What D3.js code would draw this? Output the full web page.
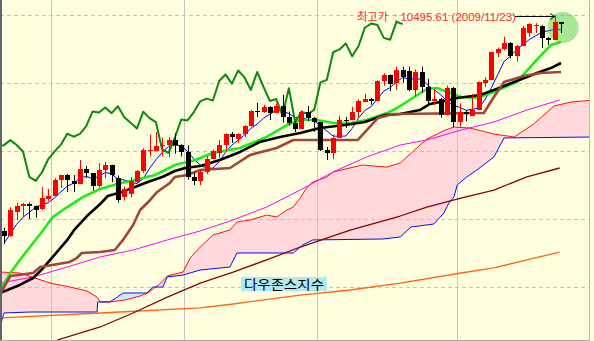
<!DOCTYPE html>
<html lang="ko">
<head>
<meta charset="utf-8">
<title>다우존스지수</title>
<script src="https://d3js.org/d3.v7.min.js"></script>
<style>
  body { margin: 0; background: #ffffe0; }
  svg { display: block; }
</style>
</head>
<body>
<script>
// daily candles, 2009/07/22 .. 2009/11/24 (index 0..88)
const open = [8915,8881,9050,9093,9108,9096,9070,9150,9172,9280,
  9320,9280,9257,9370,9337,9241,9362,9398,9300,9160,
  9180,9270,9350,9500,9505,9535,9540,9582,9544,9496,
  9310,9280,9344,9441,9490,9547,9627,9590,9626,9683,
  9791,9783,9820,9778,9829,9748,9707,9665,9789,9742,
  9712,9509,9487,9599,9731,9725,9786,9865,9885,9871,
  10015,10062,9995,10092,10090,9949,10080,9972,9868,9882,
  9762,9962,9712,9789,9760,9802,10000,10023,10220,10250,
  10291,10197,10270,10370,10420,10420,10330,10318,10450];
const high = [8936,9086,9118,9118,9120,9100,9235,9220,9300,9325,
  9330,9323,9434,9390,9337,9410,9420,9400,9320,9240,
  9309,9360,9520,9620,9640,9600,9603,9630,9550,9540,
  9340,9360,9460,9510,9580,9630,9640,9630,9690,9800,
  9853,9840,9830,9850,9912,9790,9720,9800,9831,9750,
  9712,9530,9620,9760,9750,9825,9880,9920,9890,10020,
  10070,10062,10120,10120,10120,10100,10120,10030,9950,9890,
  9980,9970,9850,9800,9920,10010,10044,10230,10260,10340,
  10300,10280,10420,10440,10440,10425,10338,10495.61,10449];
const low = [8816,8870,8993,9015,9000,9010,9065,9130,9172,9230,
  9198,9198,9257,9300,9210,9230,9300,9270,9120,9135,
  9160,9260,9340,9460,9505,9460,9456,9480,9460,9290,
  9250,9250,9330,9440,9450,9500,9559,9560,9600,9680,
  9750,9780,9728,9778,9710,9690,9640,9665,9720,9640,
  9500,9434,9440,9599,9670,9725,9750,9860,9840,9871,
  9980,9940,9950,10000,9940,9900,9930,9840,9838,9745,
  9762,9676,9680,9720,9757,9802,9970,10023,10190,10240,
  10180,10160,10270,10340,10368,10257,10280,10318,10368];
const close = [8881,9069,9093,9108,9096,9070,9154,9172,9286,9320,
  9280,9257,9370,9337,9241,9362,9398,9321,9135,9217,
  9279,9350,9505,9509,9539,9543,9580,9544,9496,9310,
  9280,9344,9441,9497,9547,9627,9605,9626,9683,9791,
  9783,9820,9778,9829,9748,9707,9665,9789,9742,9712,
  9509,9487,9599,9731,9725,9786,9865,9885,9871,10015,
  10062,9995,10092,10041,9949,10081,9972,9868,9882,9762,
  9962,9712,9789,9771,9802,10005,10023,10226,10247,10291,
  10197,10270,10406,10437,10426,10332,10318,10450,10433];

// thin blue line, one value per candle
const ma5 = [8820,8891,8961,9013,9049,9087,9104,9120,9156,9200,
  9242,9263,9303,9313,9297,9313,9342,9332,9291,9287,
  9270,9260,9297,9372,9436,9489,9535,9543,9540,9495,
  9442,9395,9374,9374,9422,9491,9543,9580,9618,9666,
  9698,9741,9771,9800,9792,9776,9745,9748,9730,9723,
  9683,9648,9610,9608,9610,9666,9741,9798,9826,9884,
  9940,9966,10007,10041,10028,10032,10027,9982,9950,9913,
  9869,9837,9821,9799,9807,9816,9878,9965,10061,10158,
  10197,10246,10282,10320,10347,10374,10384,10393,10392];

// other lines as [candle index, value]
const ma20 = [[-0.6,8478],[1,8603],[2.5,8699],[4.6,8824],[6.2,8919],[7.7,9015],[10,9088],[12.5,9162],
  [15.2,9221],[17.9,9257],[20.7,9287],[23.9,9324],[27,9397],[30.2,9434],[33,9485],[37.3,9522],
  [41.5,9603],[44.7,9691],[46.8,9728],[49.4,9728],[52,9706],[54.7,9706],[57.3,9728],[60.5,9779],
  [62.1,9816],[66.8,9956],[68.4,9963],[72.2,9897],[74.7,9890],[77.4,9934],[81,10007],[83.7,10147],
  [86.4,10279],[88,10301]];
const ma60 = [[-0.6,8456],[2.5,8515],[4.6,8566],[6.2,8640],[7.7,8721],[10,8846],[11.2,8926],[13.1,9022],
  [15.2,9110],[16.4,9169],[18.6,9199],[20.7,9235],[22.7,9272],[25,9309],[27,9353],[28.6,9375],
  [31,9390],[34.1,9434],[37.3,9493],[40.4,9566],[43.6,9603],[46.8,9632],[49.9,9669],[53.9,9691],
  [57,9713],[60.2,9765],[62.6,9772],[65.7,9801],[67.3,9846],[68.9,9860],[71.6,9890],[75.2,9912],
  [77.4,9949],[81,10015],[84.2,10074],[86.4,10110],[88,10147]];
const kijun = [[-0.6,8450],[1,8581],[4.6,8603],[5.7,8647],[7.6,8662],[10.4,8684],[11.5,8713],[12.3,8750],
  [15.2,8757],[17.5,8772],[18.8,8846],[20.4,8956],[21.5,9066],[23.1,9140],[24.2,9199],[26.2,9265],
  [27,9309],[28.9,9324],[31,9360],[35.7,9375],[38.9,9471],[43.1,9522],[45.7,9581],[55.9,9581],
  [59.1,9743],[61.5,9772],[75.8,9779],[77.4,9897],[79,10007],[82.1,10051],[84.8,10074],[88,10081]];
const ma120 = [[-0.6,8529],[4.6,8574],[10,8647],[15.2,8721],[20.4,8772],[25.8,8846],[31,8912],[36.2,8993],
  [41.5,9088],[46.8,9213],[52,9346],[57.3,9456],[62.6,9544],[66.8,9581],[72.2,9654],[77.4,9713],
  [82.6,9801],[87.8,9875]];
const ma200 = [[8.4,8110],[15.2,8206],[20.4,8309],[25.8,8426],[31,8529],[36.2,8610],[41.5,8699],[46.8,8794],
  [54.7,8919],[62.6,9022],[66.8,9088],[72.2,9154],[77.4,9213],[82.6,9309],[87.8,9375]];
const ma240 = [[-0.6,8272],[15.2,8309],[31,8346],[36.2,8375],[46.8,8441],[54.7,8478],[62.6,8529],
  [72.2,8603],[77.4,8640],[82.6,8699],[87.8,8757]];
const spanA = [[-0.6,8610],[2.5,8603],[4.9,8566],[7.3,8529],[10.4,8500],[13.1,8471],[14.7,8426],[15.2,8390],
  [16.7,8390],[19.1,8404],[21.5,8434],[22.7,8456],[24.6,8522],[25.8,8581],[28.3,8610],[29.4,8713],
  [31,8794],[33,8882],[35.7,8919],[36.8,8978],[38.9,8993],[41.5,9029],[43.1,9015],[44.7,9066],
  [45.7,9088],[46.8,9154],[47.9,9235],[48.8,9272],[51,9309],[52,9346],[56.6,9397],[60.5,9382],
  [62.6,9412],[66.8,9588],[69.7,9654],[71.1,9676],[73.6,9669],[77.4,9625],[80.6,9603],[83.7,9699],
  [86.9,9831],[89.6,9860],[93.2,9875]];
const spanB = [[-0.4,8243],[0,8309],[4.1,8316],[14.7,8316],[14.8,8390],[16.7,8390],[17.9,8426],[18.8,8456],
  [22.6,8456],[23.5,8500],[25.1,8500],[25.8,8574],[28.3,8588],[31,8625],[35.7,8647],[36.8,8750],
  [45.7,8750],[47.2,8809],[48.8,8846],[59.9,8853],[62.6,8868],[64.3,8941],[67.9,8963],[69.5,9044],
  [70.3,9118],[71.1,9162],[71.6,9250],[73.1,9309],[74.7,9360],[77.4,9456],[79,9596],[93.2,9603]];
const chikouShift = 25;

const gridValues = [8500, 9000, 9500, 10000, 10500];
const monthStart = [8, 29, 50, 72];
const topPrice = 10495.61, topIndex = 87;

const w = 594;
const h = 341;
const plotRight = 589;
const plotBottom = 340;

const x = d3.scaleLinear().domain([0, 88]).range([4, 561]);
const y = d3.scaleLinear().domain([8000, 10500]).range([355, 15]);

const svg = d3.select('body')
  .append('svg')
  .attr('width', w)
  .attr('height', h);

svg.append('rect').attr('width', w).attr('height', h).attr('fill', '#ffffe0');

const defs = svg.append('defs');
defs.append('clipPath').attr('id', 'plot')
  .append('rect').attr('x', 1).attr('y', 0).attr('width', plotRight - 1).attr('height', plotBottom);

const above = d3.area().x(d => x(d[0])).y0(0).y1(d => y(d[1]));
const below = d3.area().x(d => x(d[0])).y0(plotBottom).y1(d => y(d[1]));
defs.append('clipPath').attr('id', 'aboveA').append('path').attr('d', above(spanA));
defs.append('clipPath').attr('id', 'aboveB').append('path').attr('d', above(spanB));

const plot = svg.append('g').attr('clip-path', 'url(#plot)');

// cloud
plot.append('g').attr('clip-path', 'url(#aboveB)')
  .append('path').attr('d', below(spanA)).attr('fill', '#ffd8dc');
plot.append('g').attr('clip-path', 'url(#aboveA)')
  .append('path').attr('d', below(spanB)).attr('fill', '#d6e4fb');

// grid
plot.selectAll('line.hgrid')
  .data(gridValues)
  .enter()
  .append('line')
  .attr('x1', 0).attr('x2', plotRight)
  .attr('y1', d => Math.round(y(d)) + 0.5)
  .attr('y2', d => Math.round(y(d)) + 0.5)
  .attr('stroke', '#c4c4c4')
  .attr('stroke-dasharray', '4,3');
plot.selectAll('line.vgrid')
  .data(monthStart)
  .enter()
  .append('line')
  .attr('x1', d => Math.round(x(d - 0.5)) + 0.5)
  .attr('x2', d => Math.round(x(d - 0.5)) + 0.5)
  .attr('y1', 0).attr('y2', plotBottom)
  .attr('stroke', '#c4c4c4');

const line = d3.line().x(d => x(d[0])).y(d => y(d[1]));
const addLine = (data, color, width) => plot.append('path')
  .attr('d', line(data))
  .attr('fill', 'none')
  .attr('stroke', color)
  .attr('stroke-width', width)
  .attr('stroke-linejoin', 'round');

addLine(spanA, '#ff1010', 1);
addLine(spanB, '#0010ff', 1);
addLine(ma240, '#ff6414', 1.3);
addLine(ma200, '#8b0000', 1.3);
addLine(ma120, '#ff00ff', 1);
addLine(ma5.map((v, i) => [i, v]), '#0000ff', 1);
addLine(ma20, '#19ee19', 2.6);
addLine(ma60, '#000000', 2.6);
addLine(kijun, '#a0443c', 2.6);
addLine(close.slice(chikouShift - 1).map((v, k) => [k - 1, v]), '#0a8a0a', 2);

// highlight circle
plot.append('circle')
  .attr('cx', 563).attr('cy', 27.5).attr('r', 15.5)
  .attr('fill', '#33cc33').attr('opacity', 0.45);

// candles
const candles = d3.range(close.length).map(i => ({ i, o: open[i], h: high[i], l: low[i], c: close[i] }));
const color = d => d.c >= d.o ? '#ff0000' : '#000000';
plot.selectAll('line.wick')
  .data(candles)
  .enter()
  .append('line')
  .attr('x1', d => Math.round(x(d.i)) + 0.5)
  .attr('x2', d => Math.round(x(d.i)) + 0.5)
  .attr('y1', d => y(d.h))
  .attr('y2', d => y(d.l))
  .attr('stroke', color);
plot.selectAll('rect.body')
  .data(candles)
  .enter()
  .append('rect')
  .attr('x', d => Math.round(x(d.i)) - 2)
  .attr('y', d => Math.round(y(Math.max(d.o, d.c))))
  .attr('width', 5)
  .attr('height', d => Math.max(1, Math.round(Math.abs(y(d.o) - y(d.c)))))
  .attr('fill', color);

// borders
svg.append('line').attr('x1', 1).attr('x2', 1).attr('y1', 0).attr('y2', h)
  .attr('stroke', '#5c6670').attr('stroke-width', 2);
svg.append('line').attr('x1', 0).attr('x2', plotRight + 1).attr('y1', plotBottom + 0.5).attr('y2', plotBottom + 0.5)
  .attr('stroke', '#a8a8a8');
svg.append('line').attr('x1', plotRight + 0.5).attr('x2', plotRight + 0.5).attr('y1', 0).attr('y2', plotBottom)
  .attr('stroke', '#b8b8b8');

// top price note
svg.append('text')
  .attr('x', 357).attr('y', 21)
  .attr('fill', '#f03030')
  .attr('textLength', 31).attr('lengthAdjust', 'spacingAndGlyphs')
  .style('font-family', '"Noto Sans CJK KR"')
  .style('font-size', '11px')
  .text('최고가');
svg.append('text')
  .attr('x', 394).attr('y', 21)
  .attr('fill', '#f03030')
  .style('font-family', '"Liberation Sans", Arial, sans-serif')
  .style('font-size', '11.5px')
  .text(': ' + topPrice + ' (2009/11/23)');
const ay = Math.round(y(topPrice)) + 0.5;
svg.append('line')
  .attr('x1', 515).attr('x2', x(topIndex))
  .attr('y1', ay).attr('y2', ay)
  .attr('stroke', '#000');
svg.append('path')
  .attr('d', `M${x(topIndex) - 4.5},${ay - 3}L${x(topIndex)},${ay}L${x(topIndex) - 4.5},${ay + 3}`)
  .attr('fill', 'none')
  .attr('stroke', '#000');

// chart name
svg.append('rect')
  .attr('x', 241).attr('y', 277).attr('width', 86).attr('height', 14)
  .attr('fill', '#b0eaf0');
svg.append('text')
  .attr('x', 244).attr('y', 289)
  .attr('fill', '#000')
  .attr('textLength', 80).attr('lengthAdjust', 'spacingAndGlyphs')
  .style('font-family', '"Noto Sans CJK KR"')
  .style('font-size', '13px')
  .text('다우존스지수');
</script>
</body>
</html>
